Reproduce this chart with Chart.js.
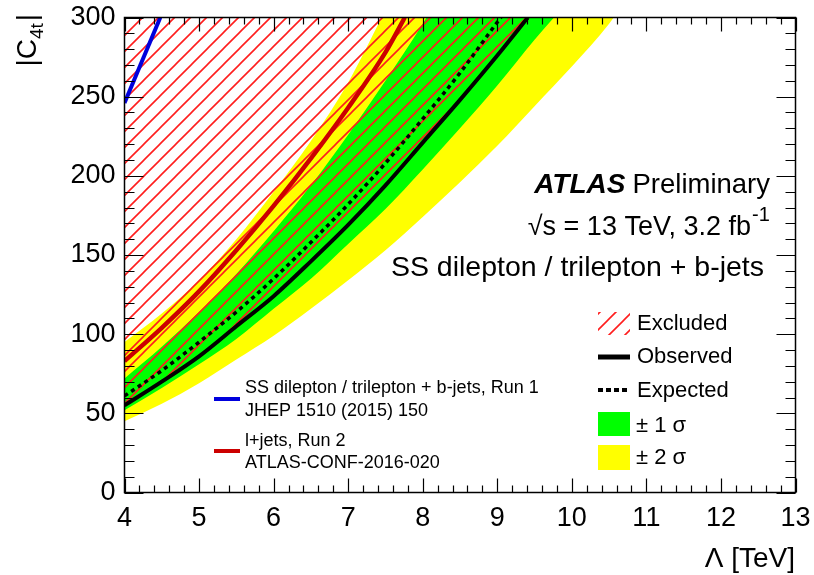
<!DOCTYPE html>
<html>
<head>
<meta charset="utf-8">
<script src="https://cdn.jsdelivr.net/npm/chart.js@4.4.0/dist/chart.umd.min.js"></script>
<style>
  html, body { margin: 0; padding: 0; background: #fff; }
  #wrap { width: 814px; height: 575px; }
</style>
</head>
<body>
<div id="wrap"><canvas id="limitChart" width="814" height="575"></canvas></div>
<script>
// Lambda [TeV] and |C4t| values
const observedLambda = [4, 4.5, 5, 5.5, 6, 6.5, 7, 7.5, 8, 8.5, 9, 9.41];
const observedC      = [55, 70, 86, 105, 124, 146, 169, 194, 221, 248, 276, 300];

const expectedLambda = [4, 4.5, 5, 5.5, 6, 6.5, 7, 7.5, 8, 8.5, 9, 9.05];
const expectedC      = [61, 77, 95, 114, 135, 158, 182, 208, 236, 265, 297, 300];

// +-1 sigma band edges
const oneSigUpLambda  = [4, 4.5, 5, 5.5, 6, 6.5, 7, 7.5, 8, 8.05];
const oneSigUpC       = [72, 92, 114, 138, 165, 194, 226, 260, 296, 300];
const oneSigLowLambda = [4, 4.5, 5, 5.5, 6, 6.5, 7, 7.5, 8, 8.5, 9, 9.5, 9.76];
const oneSigLowC      = [52, 66, 81, 97, 116, 135, 157, 179, 204, 230, 257, 286, 300];

// +-2 sigma band edges
const twoSigUpLambda  = [4, 4.5, 5, 5.5, 6, 6.5, 7, 7.45];
const twoSigUpC       = [95, 113, 134, 160, 190, 222, 259, 300];
const twoSigLowLambda = [4, 4.5, 5, 5.5, 6, 6.5, 7, 7.5, 8, 8.5, 9, 9.5, 10, 10.5, 10.56];
const twoSigLowC      = [45, 56, 69, 84, 99, 116, 134, 153, 174, 196, 219, 244, 269, 296, 300];

// other limits
const ljetsLambda = [4, 4.5, 5, 5.5, 6, 6.5, 7, 7.5, 7.76];
const ljetsC      = [83, 104, 127, 153, 181, 211, 243, 278, 300];
const run1Lambda  = [4, 4.48];
const run1C       = [246, 300];

const xTicks = [4, 5, 6, 7, 8, 9, 10, 11, 12, 13];
const yTicks = [0, 50, 100, 150, 200, 250, 300];

const FONT = '"Liberation Sans", Arial, Helvetica, sans-serif';

function pts(xs, ys) {
    return xs.map((x, i) => ({ x: x, y: ys[i] }));
}

// red diagonal hatching like ROOT fill style 3004
function makeHatch() {
    const c = document.createElement('canvas');
    c.width = 16; c.height = 16;
    const g = c.getContext('2d');
    g.strokeStyle = 'rgb(255, 30, 30)';
    g.lineWidth = 1.6;
    g.beginPath();
    g.moveTo(-4, 20); g.lineTo(20, -4);
    g.moveTo(-4, 4); g.lineTo(4, -4);
    g.moveTo(12, 20); g.lineTo(20, 12);
    g.stroke();
    return g.createPattern(c, 'repeat');
}
const hatch = makeHatch();

const YELLOW = '#ffff00';
const GREEN = '#00ff00';

function band(data, color, order) {
    return {
        data: data,
        borderWidth: 0,
        borderColor: 'rgba(0,0,0,0)',
        backgroundColor: color,
        fill: 'end',
        pointRadius: 0,
        cubicInterpolationMode: 'monotone',
        order: order,
    };
}

const datasets = [
    band(pts(twoSigLowLambda, twoSigLowC), YELLOW, 10),
    band(pts(oneSigLowLambda, oneSigLowC), GREEN, 9),
    band(pts(oneSigUpLambda, oneSigUpC), YELLOW, 8),
    band(pts(twoSigUpLambda, twoSigUpC), '#ffffff', 7),
    band(pts(observedLambda, observedC), hatch, 6),
    {
        data: pts(ljetsLambda, ljetsC),
        borderColor: '#cc0000', borderWidth: 4.5,
        pointRadius: 0, fill: false, cubicInterpolationMode: 'monotone', order: 5,
    },
    {
        data: pts(run1Lambda, run1C),
        borderColor: '#0000dd', borderWidth: 4,
        pointRadius: 0, fill: false, order: 4,
    },
    {
        data: pts(expectedLambda, expectedC),
        borderColor: '#000', borderWidth: 3.5, borderDash: [4, 4],
        pointRadius: 0, fill: false, cubicInterpolationMode: 'monotone', order: 3,
    },
    {
        data: pts(observedLambda, observedC),
        borderColor: '#000', borderWidth: 4,
        pointRadius: 0, fill: false, cubicInterpolationMode: 'monotone', order: 2,
    },
];

/*
 * ROOT style frame, inward ticks, texts and legend
 */
const rootStyle = {
    id: 'rootStyle',
    afterDatasetsDraw(chart) {
        const ctx = chart.ctx;
        const a = chart.chartArea;
        const xs = chart.scales.x, ys = chart.scales.y;
        ctx.save();
        ctx.strokeStyle = '#000';
        ctx.lineWidth = 1.5;
        ctx.strokeRect(a.left, a.top, a.right - a.left, a.bottom - a.top);

        ctx.lineWidth = 1.2;
        ctx.beginPath();
        for (let i = 0; i <= 45; i++) {
            const px = Math.round(xs.getPixelForValue(4 + i * 0.2)) + 0.5;
            const len = i % 5 == 0 ? 14 : 7;
            ctx.moveTo(px, a.bottom); ctx.lineTo(px, a.bottom - len);
            ctx.moveTo(px, a.top); ctx.lineTo(px, a.top + len);
        }
        for (let i = 0; i <= 30; i++) {
            const py = Math.round(ys.getPixelForValue(i * 10)) + 0.5;
            const len = i % 5 == 0 ? 19 : 10;
            ctx.moveTo(a.left, py); ctx.lineTo(a.left + len, py);
            ctx.moveTo(a.right, py); ctx.lineTo(a.right - len, py);
        }
        ctx.stroke();
        ctx.restore();
    },
    afterDraw(chart) {
        const ctx = chart.ctx;
        ctx.save();
        ctx.fillStyle = '#000';
        ctx.textBaseline = 'alphabetic';

        // labels, top right
        ctx.textAlign = 'right';
        ctx.font = '27.5px ' + FONT;
        ctx.fillText('Preliminary', 770, 193);
        const wPre = ctx.measureText('Preliminary').width;
        ctx.font = 'italic bold 28px ' + FONT;
        ctx.fillText('ATLAS', 770 - wPre - 7, 193);

        ctx.font = '20px ' + FONT;
        ctx.textAlign = 'left';
        ctx.fillText('-1', 752, 221);
        ctx.textAlign = 'right';
        ctx.font = '27px ' + FONT;
        ctx.fillText('\u221As = 13 TeV, 3.2 fb', 751, 235);

        ctx.font = '28.5px ' + FONT;
        ctx.fillText('SS dilepton / trilepton + b-jets', 764, 276);

        // right legend
        ctx.textAlign = 'left';
        ctx.font = '22px ' + FONT;
        ctx.fillStyle = hatch;
        ctx.fillRect(598, 312, 32, 23);
        ctx.fillStyle = '#000';
        ctx.fillText('Excluded', 637, 330);

        ctx.lineWidth = 5;
        ctx.strokeStyle = '#000';
        ctx.beginPath(); ctx.moveTo(598, 357); ctx.lineTo(630, 357); ctx.stroke();
        ctx.fillText('Observed', 637, 363);

        ctx.setLineDash([5, 3]);
        ctx.lineWidth = 4;
        ctx.beginPath(); ctx.moveTo(598, 390); ctx.lineTo(630, 390); ctx.stroke();
        ctx.setLineDash([]);
        ctx.fillText('Expected', 637, 397);

        ctx.fillStyle = GREEN;
        ctx.fillRect(598, 412, 32, 24);
        ctx.fillStyle = YELLOW;
        ctx.fillRect(598, 445, 32, 25);
        ctx.fillStyle = '#000';
        ctx.fillText('\u00B1 1 \u03C3', 636, 432);
        ctx.fillText('\u00B1 2 \u03C3', 636, 464);

        // left legend
        ctx.font = '18px ' + FONT;
        ctx.strokeStyle = '#0000dd';
        ctx.lineWidth = 4;
        ctx.beginPath(); ctx.moveTo(214, 399); ctx.lineTo(240, 399); ctx.stroke();
        ctx.fillText('SS dilepton / trilepton + b-jets, Run 1', 245, 393);
        ctx.fillText('JHEP 1510 (2015) 150', 245, 416);
        ctx.strokeStyle = '#cc0000';
        ctx.beginPath(); ctx.moveTo(214, 451); ctx.lineTo(240, 451); ctx.stroke();
        ctx.fillText('l+jets, Run 2', 245, 446);
        ctx.fillText('ATLAS-CONF-2016-020', 245, 468);

        // x axis title
        ctx.font = '28px ' + FONT;
        ctx.textAlign = 'right';
        ctx.fillText('\u039B [TeV]', 795, 567);

        // y axis title, rotated
        ctx.translate(36, 14);
        ctx.rotate(-Math.PI / 2);
        ctx.textAlign = 'left';
        ctx.font = '28px ' + FONT;
        const wA = ctx.measureText('|C').width;
        const wC = ctx.measureText('|').width;
        ctx.font = '19px ' + FONT;
        const wB = ctx.measureText('4t').width;
        let x0 = -(wA + wB + wC + 2);
        ctx.font = '28px ' + FONT;
        ctx.fillText('|C', x0, 0);
        ctx.font = '19px ' + FONT;
        ctx.fillText('4t', x0 + wA, 7);
        ctx.font = '28px ' + FONT;
        ctx.fillText('|', x0 + wA + wB + 2, 0);
        ctx.restore();
    }
};

const ctx = document.getElementById('limitChart').getContext('2d');
const limitChart = new Chart(ctx, {
    type: 'line',
    data: { datasets: datasets },
    options: {
        responsive: false,
        animation: false,
        layout: { padding: { top: 17.5, right: 18.5, left: 0, bottom: 0 } },
        plugins: {
            legend: { display: false },
            tooltip: { enabled: false },
            filler: { propagate: false },
        },
        scales: {
            x: {
                type: 'linear',
                min: 4, max: 13,
                afterBuildTicks: s => { s.ticks = xTicks.map(v => ({ value: v })); },
                grid: { display: false },
                border: { display: false },
                ticks: { color: '#000', font: { size: 27, family: FONT }, padding: 2, maxRotation: 0 },
                afterFit: s => { s.height = 82.5; },
            },
            y: {
                min: 0, max: 300,
                afterBuildTicks: s => { s.ticks = yTicks.map(v => ({ value: v })); },
                grid: { display: false },
                border: { display: false },
                ticks: { color: '#000', font: { size: 27, family: FONT }, padding: 1 },
                afterFit: s => { s.width = 124.5; },
            },
        },
    },
    plugins: [rootStyle],
});
</script>
</body>
</html>
